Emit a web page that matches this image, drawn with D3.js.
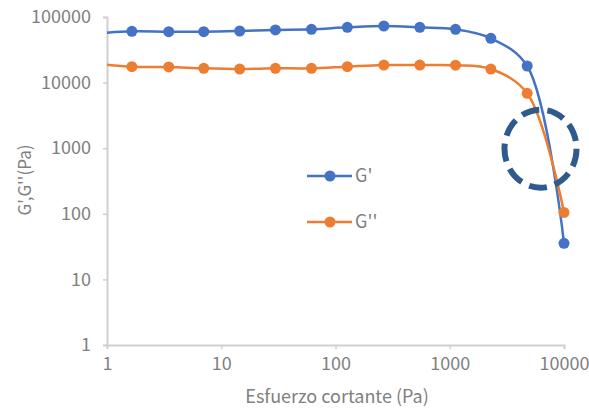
<!DOCTYPE html>
<html>
<head>
<meta charset="UTF-8">
<style>
  body { margin: 0; background: #fff; }
  svg { display: block; font-family: "Noto Sans CJK SC", "Noto Sans", sans-serif; }
</style>
</head>
<body>
<svg width="589" height="410"></svg>
<script src="https://d3js.org/d3.v7.min.js"></script>
<script>
// shear stress (Pa), first point sits just left of the axis and gets clipped
const stress = [0.8, 1.65, 3.47, 7.03, 14.5, 29.8, 61.6, 127, 265, 547, 1124, 2290, 4760, 10000]
const gPrime = [56000, 60500, 59700, 59700, 61200, 63400, 64900, 69600, 72900, 69600, 64900, 47300, 17900, 35.5]
const gDouble = [19500, 17500, 17300, 16500, 16100, 16500, 16500, 17500, 18500, 18500, 18400, 16100, 6870, 105]
const xTicks = [1, 10, 100, 1000, 10000]
const yTicks = [1, 10, 100, 1000, 10000, 100000]

const series = [
  { name: "G'", values: gPrime, color: "#4472C4" },
  { name: "G''", values: gDouble, color: "#ED7D31" }
]

let svg = d3.select("svg")

let x = d3.scaleLog().domain([1, 10000]).range([107, 564])
let y = d3.scaleLog().domain([1, 100000]).range([345, 17])

const textColor = "#808080"
const axisColor = "#d0d0d0"

// axes
let xAxis = svg.append("g")
  .attr("transform", "translate(0," + y(1) + ")")
  .call(d3.axisBottom(x).tickValues(xTicks).tickFormat(d3.format("d")).tickSize(4).tickPadding(8))
let yAxis = svg.append("g")
  .attr("transform", "translate(" + x(1) + ",0)")
  .call(d3.axisLeft(y).tickValues(yTicks).tickFormat(d3.format("d")).tickSize(4).tickPadding(12))

svg.selectAll(".domain").attr("stroke", axisColor).attr("stroke-width", 2)
svg.selectAll(".tick line").attr("stroke", axisColor).attr("stroke-width", 1.5)
svg.selectAll(".tick text").attr("fill", textColor).style("font-size", "18px")
  .style("font-family", "\"Noto Sans CJK SC\", sans-serif")

// axis titles
svg.append("text")
  .attr("x", 337).attr("y", 403)
  .attr("text-anchor", "middle")
  .attr("fill", textColor)
  .style("font-size", "18px")
  .text("Esfuerzo cortante (Pa)")

svg.append("text")
  .attr("transform", "translate(31,180) rotate(-90)")
  .attr("text-anchor", "middle")
  .attr("fill", textColor)
  .style("font-size", "17px")
  .text("G',G''(Pa)")

// clip so the first segment starts at the y axis
svg.append("defs").append("clipPath").attr("id", "plot")
  .append("rect").attr("x", x(1)).attr("y", 0).attr("width", x(10000) - x(1) + 20).attr("height", y(1))

let line = d3.line()
  .x((d, i) => x(stress[i]))
  .y(d => y(d))
  .curve(d3.curveCatmullRom)

let plot = svg.append("g").attr("clip-path", "url(#plot)")

series.forEach(s => {
  plot.append("path")
    .attr("d", line(s.values))
    .attr("fill", "none")
    .attr("stroke", s.color)
    .attr("stroke-width", 2.5)

  plot.selectAll(null)
    .data(s.values.slice(1))
    .enter()
    .append("circle")
    .attr("cx", (d, i) => x(stress[i + 1]))
    .attr("cy", d => y(d))
    .attr("r", 5.5)
    .attr("fill", s.color)
})

// legend
let legend = svg.append("g")
series.forEach((s, i) => {
  let ly = 176 + i * 46
  legend.append("line")
    .attr("x1", 307).attr("x2", 352)
    .attr("y1", ly).attr("y2", ly)
    .attr("stroke", s.color).attr("stroke-width", 2.5)
  legend.append("circle")
    .attr("cx", 330).attr("cy", ly).attr("r", 5.5)
    .attr("fill", s.color)
  legend.append("text")
    .attr("x", 355).attr("y", ly + 6)
    .attr("fill", textColor)
    .style("font-size", "18px")
    .text(s.name)
})

// dashed highlight circle
svg.append("ellipse")
  .attr("cx", 540.5).attr("cy", 148.7)
  .attr("rx", 36).attr("ry", 39)
  .attr("fill", "none")
  .attr("stroke", "#2F5A8C")
  .attr("stroke-width", 6)
  .attr("stroke-dasharray", "18 8.2")
</script>
</body>
</html>
